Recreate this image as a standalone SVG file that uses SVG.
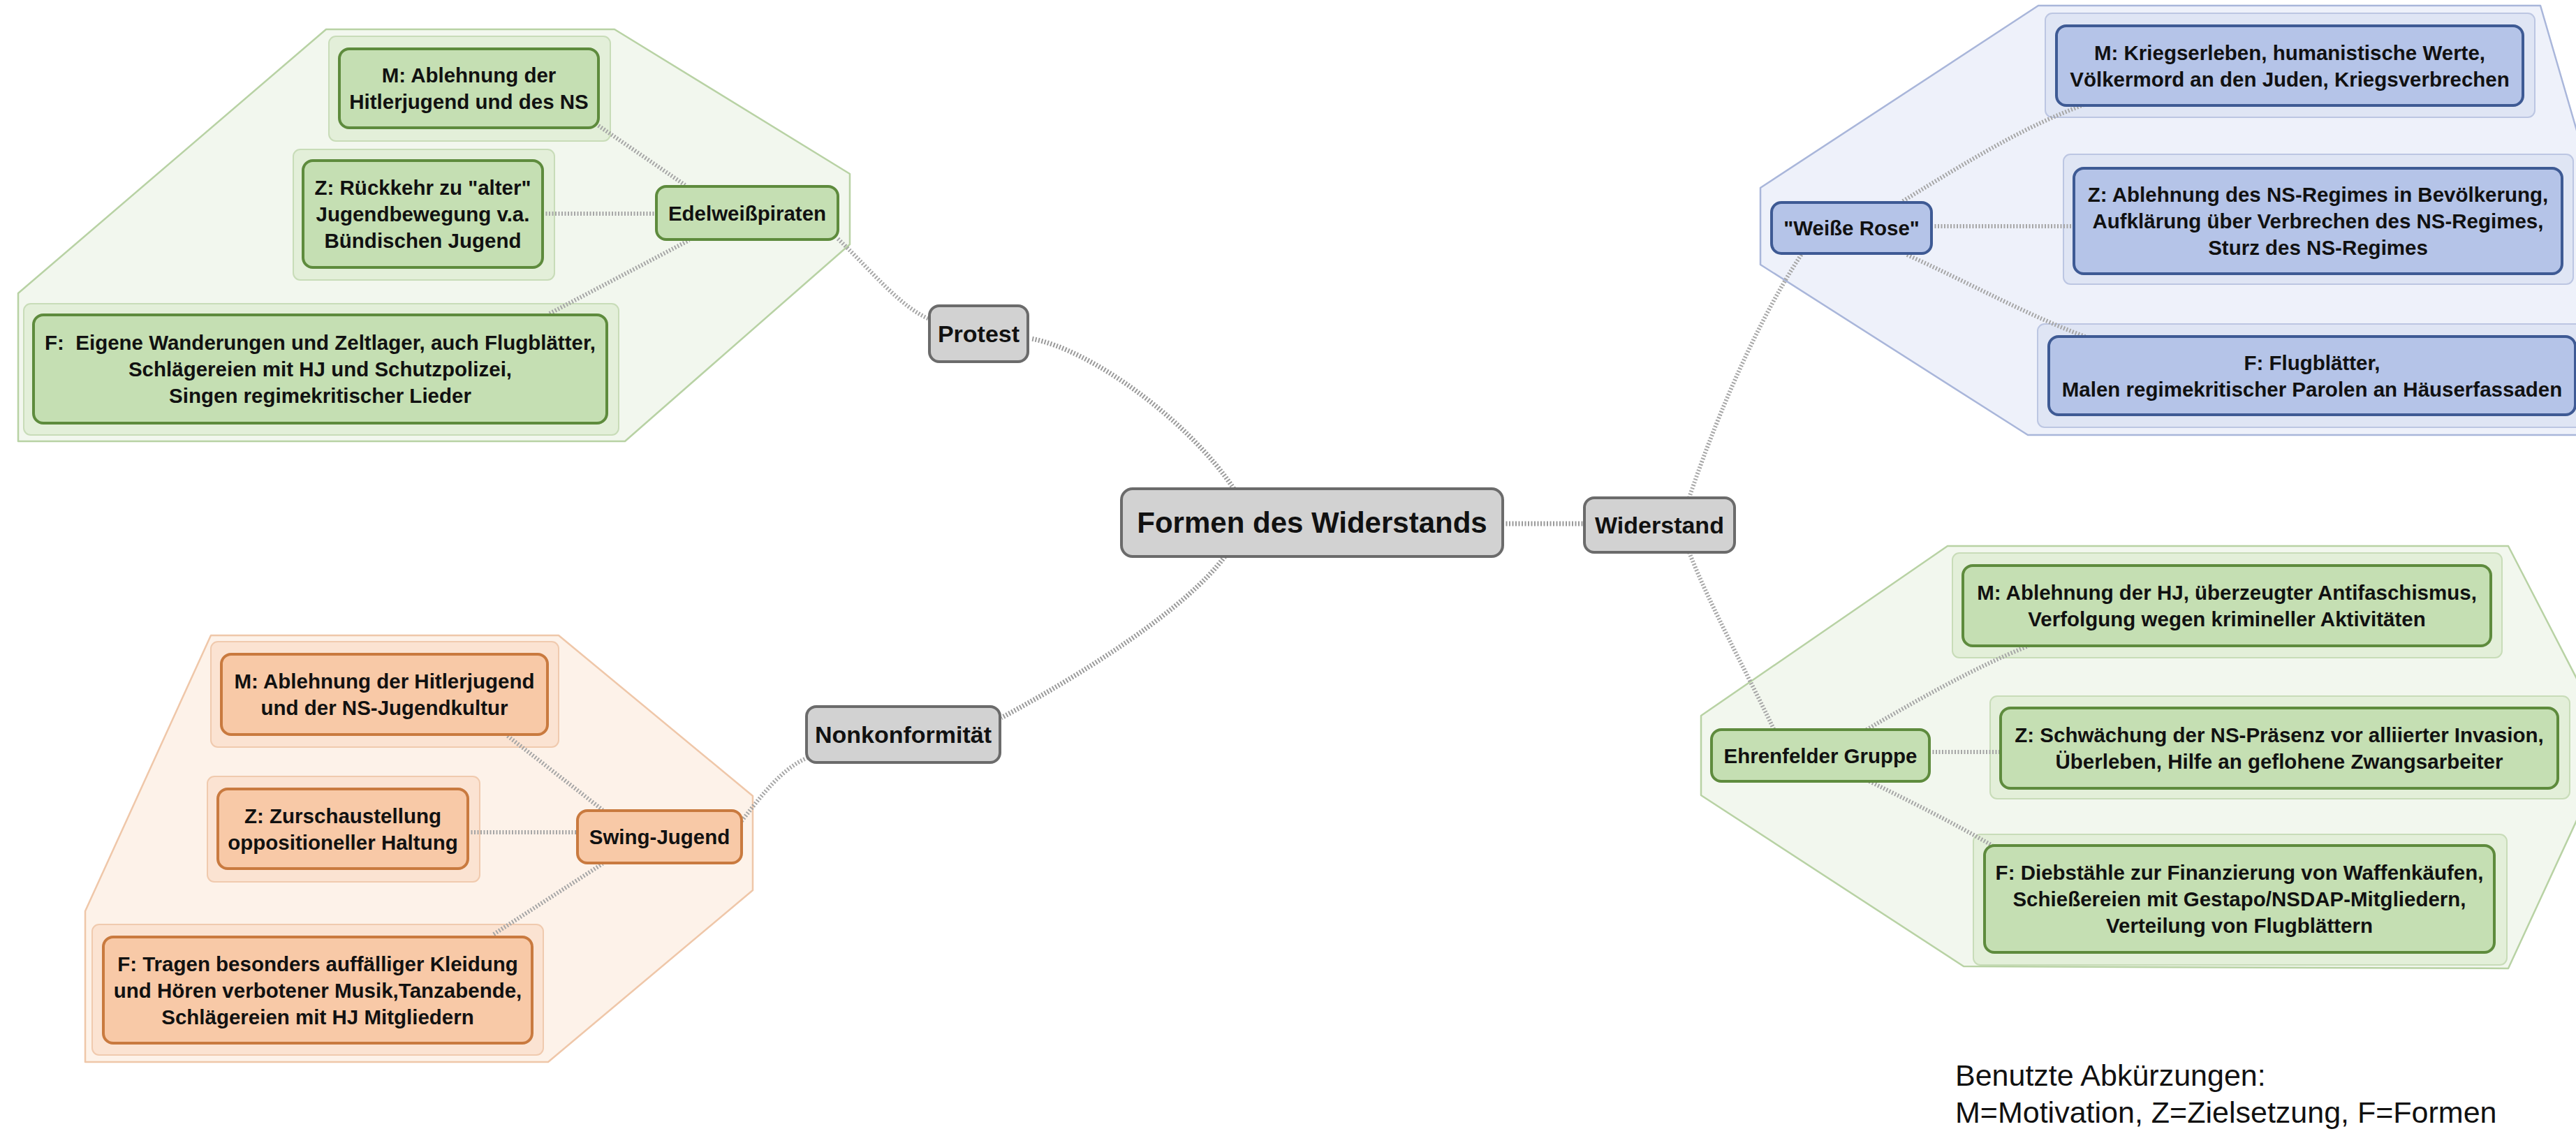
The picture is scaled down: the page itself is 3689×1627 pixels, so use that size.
<svg xmlns="http://www.w3.org/2000/svg" width="3689" height="1627" viewBox="0 0 3689 1627">
<style>
.t{font-family:"Liberation Sans",Arial,sans-serif;font-weight:bold;fill:#111;text-anchor:middle}
.c{font-size:29.5px}
.l1{font-size:34px}
.root{font-size:42px}
.leg{font-family:"Liberation Sans",Arial,sans-serif;font-size:43px;fill:#111}
.gray{fill:#d2d2d2;stroke:#6b6b6b;stroke-width:4}
.gn{fill:#c5dfb3;stroke:#5e8b3d;stroke-width:4}
.gp{fill:#e3efd9;stroke:#c8dcb8;stroke-width:2}
.go{fill:#f2f7ee;stroke:#b8d2a4;stroke-width:2.5}
.bn{fill:#b5c4e8;stroke:#3e5a94;stroke-width:4}
.bp{fill:#dfe5f4;stroke:#bcc6e2;stroke-width:2}
.bo{fill:#eef1fa;stroke:#a9b6da;stroke-width:2.5}
.on{fill:#f8c9a7;stroke:#c97a3f;stroke-width:4}
.op{fill:#fbe3d2;stroke:#f0caae;stroke-width:2}
.oo{fill:#fdf2e9;stroke:#efc7a9;stroke-width:2.5}
.cm{fill:none;stroke:#9a9a9a;stroke-width:7;stroke-dasharray:2 2.5}
.cs{fill:none;stroke:#a6a6a6;stroke-width:6;stroke-dasharray:2 2.5}
</style>

<!-- group backgrounds -->
<g id="backgrounds" stroke-linejoin="round">
  <polygon class="go" points="467,42 880,42 1217,249 1217,350 895,632 26,632 26,420"/>
  <rect class="gp" x="471" y="52" width="403" height="150" rx="10"/>
  <rect class="gp" x="420" y="214" width="374" height="187" rx="10"/>
  <rect class="gp" x="34" y="435" width="852" height="188" rx="10"/>

  <polygon class="oo" points="302,910 800,910 1078,1140 1078,1275 785,1521 122,1521 122,1305"/>
  <rect class="op" x="302" y="919" width="498" height="151" rx="10"/>
  <rect class="op" x="297" y="1112" width="390" height="151" rx="10"/>
  <rect class="op" x="132" y="1324" width="646" height="187" rx="10"/>

  <polygon class="bo" points="2919,8 3638,8 3720,290 3720,420 3700,623 2904,623 2521,379 2521,269"/>
  <rect class="bp" x="2929" y="19" width="701" height="149" rx="10"/>
  <rect class="bp" x="2955" y="221" width="730" height="186" rx="10"/>
  <rect class="bp" x="2918" y="464" width="790" height="148" rx="10"/>

  <polygon class="go" points="2789,782 3592,782 3720,1030 3720,1110 3592,1387 2812,1384 2436,1139 2436,1025"/>
  <rect class="gp" x="2796" y="792" width="787" height="150" rx="10"/>
  <rect class="gp" x="2850" y="997" width="830" height="147" rx="10"/>
  <rect class="gp" x="2826" y="1195" width="764" height="187" rx="10"/>
</g>

<!-- connectors -->
<g id="connectors">
  <path class="cm" d="M1767 700 C1700 600 1560 500 1477 485"/>
  <path class="cm" d="M1754 797 C1700 870 1560 960 1434 1028"/>
  <path class="cm" d="M2152 750 L2269 750"/>
  <path class="cs" d="M2419 713 C2450 620 2510 470 2580 364"/>
  <path class="cs" d="M2419 791 C2450 870 2500 960 2540 1044"/>
  <path class="cs" d="M1200 342 C1250 390 1290 440 1331 457"/>
  <path class="cs" d="M1062 1176 C1090 1140 1120 1100 1157 1085"/>

  <path class="cs" d="M857 180 L981 265"/>
  <path class="cs" d="M777 306 L940 306"/>
  <path class="cs" d="M787 449 L987 344"/>

  <path class="cs" d="M727 1054 L863 1160"/>
  <path class="cs" d="M670 1192 L827 1192"/>
  <path class="cs" d="M707 1338 L863 1237"/>

  <path class="cs" d="M2725 288 C2820 230 2900 180 2990 148"/>
  <path class="cs" d="M2766 324 L2970 324"/>
  <path class="cs" d="M2731 365 C2820 405 2900 450 2986 482"/>

  <path class="cs" d="M2673 1045 C2750 1000 2830 955 2905 925"/>
  <path class="cs" d="M2763 1077 L2865 1077"/>
  <path class="cs" d="M2677 1119 C2740 1150 2800 1180 2853 1211"/>
</g>

<!-- root and main branches -->
<g id="node-root">
  <rect class="gray" x="1606" y="700" width="546" height="97" rx="16"/>
  <text class="t root" x="1879" y="763">Formen des Widerstands</text>
</g>
<g id="node-protest">
  <rect class="gray" x="1331" y="438" width="141" height="80" rx="14"/>
  <text class="t l1" x="1401.5" y="490">Protest</text>
</g>
<g id="node-nonkonformitaet">
  <rect class="gray" x="1155" y="1012" width="277" height="80" rx="14"/>
  <text class="t l1" x="1293.5" y="1064">Nonkonformität</text>
</g>
<g id="node-widerstand">
  <rect class="gray" x="2269" y="713" width="215" height="78" rx="14"/>
  <text class="t l1" x="2376.5" y="764">Widerstand</text>
</g>

<!-- Edelweißpiraten -->
<g id="node-edelweiss">
  <rect class="gn" x="940" y="267" width="260" height="76" rx="14"/>
  <text class="t c" x="1070" y="316">Edelweißpiraten</text>
</g>
<g id="node-edelweiss-m">
  <rect class="gn" x="486" y="70" width="371" height="113" rx="14"/>
  <text class="t c" x="671.5" y="118">M: Ablehnung der</text>
  <text class="t c" x="671.5" y="156">Hitlerjugend und des NS</text>
</g>
<g id="node-edelweiss-z">
  <rect class="gn" x="434" y="230" width="343" height="153" rx="14"/>
  <text class="t c" x="605.5" y="279">Z: Rückkehr zu "alter"</text>
  <text class="t c" x="605.5" y="317">Jugendbewegung v.a.</text>
  <text class="t c" x="605.5" y="355">Bündischen Jugend</text>
</g>
<g id="node-edelweiss-f">
  <rect class="gn" x="48" y="451" width="821" height="155" rx="14"/>
  <text class="t c" x="458.5" y="501" xml:space="preserve">F:  Eigene Wanderungen und Zeltlager, auch Flugblätter,</text>
  <text class="t c" x="458.5" y="539">Schlägereien mit HJ und Schutzpolizei,</text>
  <text class="t c" x="458.5" y="577">Singen regimekritischer Lieder</text>
</g>

<!-- Swing-Jugend -->
<g id="node-swing">
  <rect class="on" x="827" y="1161" width="235" height="75" rx="14"/>
  <text class="t c" x="944.5" y="1209">Swing-Jugend</text>
</g>
<g id="node-swing-m">
  <rect class="on" x="317" y="937" width="467" height="115" rx="14"/>
  <text class="t c" x="550.5" y="986">M: Ablehnung der Hitlerjugend</text>
  <text class="t c" x="550.5" y="1024">und der NS-Jugendkultur</text>
</g>
<g id="node-swing-z">
  <rect class="on" x="312" y="1130" width="358" height="114" rx="14"/>
  <text class="t c" x="491" y="1179">Z: Zurschaustellung</text>
  <text class="t c" x="491" y="1217">oppositioneller Haltung</text>
</g>
<g id="node-swing-f">
  <rect class="on" x="148" y="1342" width="614" height="152" rx="14"/>
  <text class="t c" x="455" y="1391">F: Tragen besonders auffälliger Kleidung</text>
  <text class="t c" x="455" y="1429">und Hören verbotener Musik,Tanzabende,</text>
  <text class="t c" x="455" y="1467">Schlägereien mit HJ Mitgliedern</text>
</g>

<!-- Weiße Rose -->
<g id="node-weisse-rose">
  <rect class="bn" x="2537" y="290" width="229" height="73" rx="14"/>
  <text class="t c" x="2651.5" y="337">"Weiße Rose"</text>
</g>
<g id="node-weisse-rose-m">
  <rect class="bn" x="2945" y="37" width="668" height="114" rx="14"/>
  <text class="t c" x="3279" y="86">M: Kriegserleben, humanistische Werte,</text>
  <text class="t c" x="3279" y="124">Völkermord an den Juden, Kriegsverbrechen</text>
</g>
<g id="node-weisse-rose-z">
  <rect class="bn" x="2970" y="241" width="699" height="151" rx="14"/>
  <text class="t c" x="3319.5" y="289">Z: Ablehnung des NS-Regimes in Bevölkerung,</text>
  <text class="t c" x="3319.5" y="327">Aufklärung über Verbrechen des NS-Regimes,</text>
  <text class="t c" x="3319.5" y="365">Sturz des NS-Regimes</text>
</g>
<g id="node-weisse-rose-f">
  <rect class="bn" x="2934" y="482" width="754" height="112" rx="14"/>
  <text class="t c" x="3311" y="530">F: Flugblätter,</text>
  <text class="t c" x="3311" y="568">Malen regimekritischer Parolen an Häuserfassaden</text>
</g>

<!-- Ehrenfelder Gruppe -->
<g id="node-ehrenfelder">
  <rect class="gn" x="2451" y="1045" width="312" height="74" rx="14"/>
  <text class="t c" x="2607" y="1093">Ehrenfelder Gruppe</text>
</g>
<g id="node-ehrenfelder-m">
  <rect class="gn" x="2811" y="810" width="756" height="115" rx="14"/>
  <text class="t c" x="3189" y="859">M: Ablehnung der HJ, überzeugter Antifaschismus,</text>
  <text class="t c" x="3189" y="897">Verfolgung wegen krimineller Aktivitäten</text>
</g>
<g id="node-ehrenfelder-z">
  <rect class="gn" x="2865" y="1014" width="798" height="115" rx="14"/>
  <text class="t c" x="3264" y="1063">Z: Schwächung der NS-Präsenz vor alliierter Invasion,</text>
  <text class="t c" x="3264" y="1101">Überleben, Hilfe an geflohene Zwangsarbeiter</text>
</g>
<g id="node-ehrenfelder-f">
  <rect class="gn" x="2842" y="1211" width="730" height="153" rx="14"/>
  <text class="t c" x="3207" y="1260">F: Diebstähle zur Finanzierung von Waffenkäufen,</text>
  <text class="t c" x="3207" y="1298">Schießereien mit Gestapo/NSDAP-Mitgliedern,</text>
  <text class="t c" x="3207" y="1336">Verteilung von Flugblättern</text>
</g>

<g id="legend">
  <text class="leg" x="2800" y="1555">Benutzte Abkürzungen:</text>
  <text class="leg" x="2800" y="1608">M=Motivation, Z=Zielsetzung, F=Formen</text>
</g>
</svg>
